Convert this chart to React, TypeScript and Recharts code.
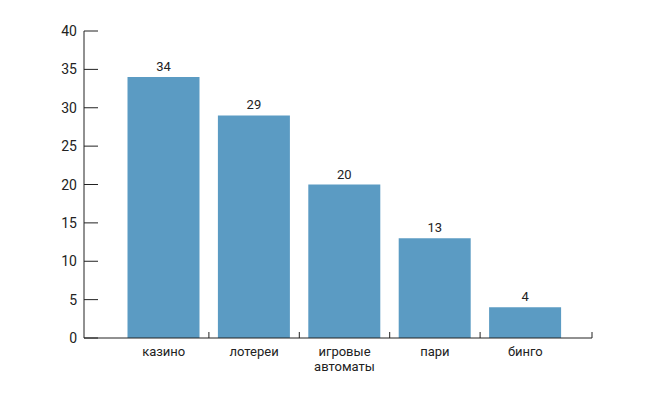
import React from 'react';
import { BarChart, Bar, XAxis, YAxis, LabelList } from 'recharts';

const categories = ['казино', 'лотереи', 'игровые автоматы', 'пари', 'бинго'];
const values = [34, 29, 20, 13, 4];
const yTicks = [0, 5, 10, 15, 20, 25, 30, 35, 40];

const data = categories.map((name, i) => ({ name, value: values[i] }));

const W = 650;
const H = 396;
const MARGIN = { top: 31, right: 58, left: 0, bottom: 18 };
const Y_AXIS_W = 84;
const PAD = { left: 34.5, right: 21.5 };
const BAND = (W - MARGIN.right - MARGIN.left - Y_AXIS_W - PAD.left - PAD.right) / categories.length;
const AXIS_END = W - MARGIN.right;

const FONT = 'Roboto, "Noto Sans", sans-serif';
const INK = '#222';
const BAR = '#5b9bc3';

const XTick = (props: any) => {
    const { x, y, payload, index } = props;
    const lines = String(payload.value).split(' ');
    const tickX = index === categories.length - 1 ? AXIS_END : x + BAND / 2;
    return (
        <g>
            <line x1={tickX} x2={tickX} y1={y} y2={y - 6} stroke={INK} strokeWidth={1} />
            <text x={x} y={y + 18} textAnchor="middle" fontSize={13} fill={INK} fontFamily={FONT}>
                {lines.map((l, i) => (
                    <tspan key={i} x={x} dy={i === 0 ? 0 : 15}>
                        {l}
                    </tspan>
                ))}
            </text>
        </g>
    );
};

const YTick = (props: any) => {
    const { x, y, payload } = props;
    return (
        <g>
            <line x1={x} x2={x + 14} y1={y} y2={y} stroke={INK} strokeWidth={1} />
            <text x={x - 7} y={y} dy={5} textAnchor="end" fontSize={14} fill={INK} fontFamily={FONT}>
                {payload.value}
            </text>
        </g>
    );
};

export default function App() {
    return (
        <div style={{ position: 'absolute', left: 0, top: 0, width: W, height: H, background: '#fff' }}>
            <BarChart width={W} height={H} data={data} margin={MARGIN}>
                <XAxis
                    dataKey="name"
                    interval={0}
                    padding={PAD}
                    height={40}
                    tickSize={0}
                    tickMargin={0}
                    tickLine={false}
                    axisLine={{ stroke: INK, strokeWidth: 1 }}
                    tick={<XTick />}
                />
                <YAxis
                    domain={[0, 40]}
                    ticks={yTicks}
                    width={Y_AXIS_W}
                    tickSize={0}
                    tickMargin={0}
                    tickLine={false}
                    axisLine={{ stroke: INK, strokeWidth: 1 }}
                    tick={<YTick />}
                    interval={0}
                />
                <Bar dataKey="value" fill={BAR} barSize={72} isAnimationActive={false}>
                    <LabelList
                        dataKey="value"
                        position="top"
                        offset={6}
                        fontSize={13}
                        fill={INK}
                        fontFamily={FONT}
                    />
                </Bar>
            </BarChart>
        </div>
    );
}
